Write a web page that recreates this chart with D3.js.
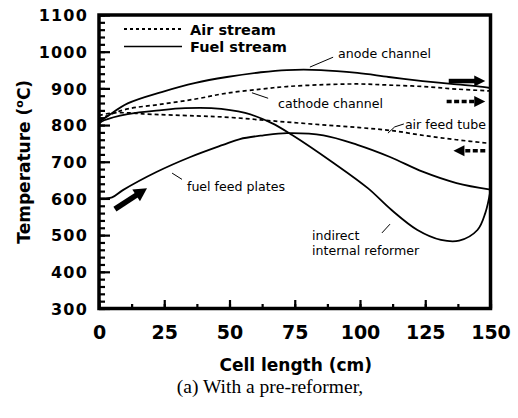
<!DOCTYPE html>
<html>
<head>
<meta charset="utf-8">
<script src="https://cdn.jsdelivr.net/npm/d3@7"></script>
<style>
  html, body { margin: 0; padding: 0; background: #fff; }
  svg { display: block; }
</style>
</head>
<body>
<svg id="chart" width="518" height="418"></svg>
<script>
// Axis ranges and tick labels
const lengthDomain = [0, 150];
const tempDomain = [300, 1100];
const lengthTicks = [0, 25, 50, 75, 100, 125, 150];
const tempTicks = [300, 400, 500, 600, 700, 800, 900, 1000, 1100];

// Fuel stream: anode channel
const anodeLen  = [0, 3, 11, 24, 37, 49, 62, 72, 85, 99, 111, 124, 135, 147, 150];
const anodeTemp = [809, 823, 859, 890, 915, 931, 944, 950, 950, 942, 931, 920, 912, 904, 901];

// Air stream: cathode channel
const cathodeLen  = [0, 4, 11, 24, 37, 49, 62, 72, 86, 99, 111, 124, 137, 150];
const cathodeTemp = [815, 828, 844, 857, 871, 887, 898, 905, 910, 912, 909, 905, 898, 893];

// Air stream: air feed tube
const airFeedLen  = [0, 5, 12, 18, 37, 50, 62, 74, 87, 100, 112, 125, 137, 150];
const airFeedTemp = [826, 833, 833, 830, 825, 821, 814, 807, 800, 793, 785, 771, 760, 750];

// Fuel stream: indirect internal reformer
const reformerLen  = [0, 2, 11, 24, 33, 43, 56, 66, 74, 90, 103, 112, 122, 131, 138, 145, 148, 150];
const reformerTemp = [804, 813, 830, 841, 846, 846, 833, 806, 773, 696, 628, 569, 514, 487, 485, 514, 560, 622];

// Fuel stream: fuel feed plates
const feedLen  = [0, 5, 9, 22, 35, 47.5, 54, 63, 72, 86, 99, 111.5, 124, 137, 150];
const feedTemp = [600, 603, 622, 672, 713, 746, 762, 772, 778, 772, 746, 713, 673, 642, 624];

// Flow-direction arrows (cell length, temperature)
const arrowFrom = [[134, 920], [133.2, 864], [148, 730], [6.1, 571]];
const arrowTo   = [[148, 920], [148, 864], [135.8, 730], [18.4, 628]];
const arrowStream = ["fuel", "air", "air", "fuel"];

const series = [
  { stream: "fuel", len: anodeLen, temp: anodeTemp },
  { stream: "air",  len: cathodeLen, temp: cathodeTemp },
  { stream: "air",  len: airFeedLen, temp: airFeedTemp },
  { stream: "fuel", len: reformerLen, temp: reformerTemp },
  { stream: "fuel", len: feedLen, temp: feedTemp }
];

const svg = d3.select("#chart");
const plotL = 99, plotR = 490.5, plotT = 15, plotB = 308.5;

const x = d3.scaleLinear().domain(lengthDomain).range([plotL, plotR]);
const y = d3.scaleLinear().domain(tempDomain).range([plotB, plotT]);

const boldFont = "'DejaVu Sans', sans-serif";

// ---- Minor and major ticks (pointing inward) ----
const yMinor = d3.axisLeft(y).tickValues(d3.range(300, 1101, 20)).tickSizeInner(-6).tickSizeOuter(0).tickFormat("");
const yMajor = d3.axisLeft(y).tickValues(tempTicks).tickSizeInner(-11).tickSizeOuter(0).tickPadding(11).tickFormat(d3.format("d"));
const xMinor = d3.axisBottom(x).tickValues(d3.range(0, 151, 12.5)).tickSizeInner(-4.5).tickSizeOuter(0).tickFormat("");
const xMajor = d3.axisBottom(x).tickValues(lengthTicks).tickSizeInner(-8.5).tickSizeOuter(0).tickPadding(17).tickFormat(d3.format("d"));

function styleAxis(g) {
  g.select(".domain").remove();
  g.selectAll(".tick line").attr("stroke", "#000").attr("stroke-width", 2.2);
}

svg.append("g").attr("transform", `translate(${plotL},0)`).call(yMinor).call(styleAxis);
const gy = svg.append("g").attr("transform", `translate(${plotL},0)`).call(yMajor).call(styleAxis);
gy.selectAll(".tick text")
  .attr("font-family", boldFont).attr("font-weight", "bold").attr("font-size", 16)
  .attr("fill", "#000").attr("letter-spacing", 1.2).attr("dy", "0.36em");

svg.append("g").attr("transform", `translate(0,${plotB})`).call(xMinor).call(styleAxis);
const gx = svg.append("g").attr("transform", `translate(0,${plotB})`).call(xMajor).call(styleAxis);
gx.selectAll(".tick text")
  .attr("font-family", boldFont).attr("font-weight", "bold").attr("font-size", 19)
  .attr("fill", "#000").attr("dy", "0.71em");

// ---- Curves ----
const line = d3.line()
  .x(d => x(d[0]))
  .y(d => y(d[1]))
  .curve(d3.curveCatmullRom.alpha(0.5));

series.forEach(s => {
  const pts = s.len.map((v, i) => [v, s.temp[i]]);
  svg.append("path")
    .attr("d", line(pts))
    .attr("fill", "none")
    .attr("stroke", "#000")
    .attr("stroke-width", s.stream === "fuel" ? 1.8 : 1.7)
    .attr("stroke-dasharray", s.stream === "air" ? "4,3" : null);
});

// ---- Flow arrows ----
function arrow(from, to, stream, big) {
  const x1 = x(from[0]), y1 = y(from[1]), x2 = x(to[0]), y2 = y(to[1]);
  const dx = x2 - x1, dy = y2 - y1, L = Math.hypot(dx, dy);
  const ux = dx / L, uy = dy / L;
  const hl = big ? 13 : 11, hw = big ? 7 : 5.5;
  const bx = x2 - ux * hl, by = y2 - uy * hl;
  svg.append("line")
    .attr("x1", x1).attr("y1", y1)
    .attr("x2", bx + ux * 1.5).attr("y2", by + uy * 1.5)
    .attr("stroke", "#000")
    .attr("stroke-width", big ? 5.5 : (stream === "air" ? 3.5 : 4.5))
    .attr("stroke-dasharray", stream === "air" ? "5,2.5" : null);
  svg.append("path")
    .attr("d", `M${x2},${y2}L${bx - uy * hw},${by + ux * hw}L${bx + uy * hw},${by - ux * hw}Z`)
    .attr("fill", "#000");
}
arrowFrom.forEach((f, i) => arrow(f, arrowTo[i], arrowStream[i], i === 3));

// ---- Curve labels and leader lines ----
const labelFont = "'DejaVu Sans', sans-serif";
function label(lines, at, lead) {
  const t = svg.append("text")
    .attr("font-family", labelFont).attr("font-size", 12.6).attr("fill", "#000");
  lines.forEach((s, i) => {
    t.append("tspan").attr("x", x(at[0])).attr("y", y(at[1]) + i * 15).text(s);
  });
  svg.append("path")
    .attr("d", d3.line().x(d => x(d[0])).y(d => y(d[1]))(lead))
    .attr("fill", "none").attr("stroke", "#000").attr("stroke-width", 1);
}
label(["anode channel"], [91.6, 983], [[80.8, 958], [89.7, 985]]);
label(["cathode channel"], [68.6, 846], [[58.6, 888], [64.8, 873]]);
label(["air feed tube"], [117.2, 788], [[110.7, 778], [113.3, 795], [116.8, 803]]);
label(["fuel feed plates"], [33.7, 620], [[28, 669], [31.8, 652]]);
label(["indirect", "internal reformer"], [81.6, 487], [[108.4, 506], [111.5, 530]]);

// ---- Plot frame ----
svg.append("rect")
  .attr("x", plotL).attr("y", plotT)
  .attr("width", plotR - plotL).attr("height", plotB - plotT)
  .attr("fill", "none").attr("stroke", "#000").attr("stroke-width", 3.5);

// ---- Legend ----
const legend = svg.append("g");
legend.append("line").attr("x1", 124).attr("x2", 182).attr("y1", 29).attr("y2", 29)
  .attr("stroke", "#000").attr("stroke-width", 2).attr("stroke-dasharray", "3,3");
legend.append("line").attr("x1", 124).attr("x2", 182).attr("y1", 46.5).attr("y2", 46.5)
  .attr("stroke", "#000").attr("stroke-width", 1.6);
legend.append("text").attr("x", 190).attr("y", 34.5)
  .attr("font-family", boldFont).attr("font-weight", "bold").attr("font-size", 14.5)
  .text("Air stream");
legend.append("text").attr("x", 190).attr("y", 52)
  .attr("font-family", boldFont).attr("font-weight", "bold").attr("font-size", 14.5)
  .text("Fuel stream");

// ---- Axis titles and caption ----
svg.append("text")
  .attr("x", (plotL + plotR) / 2 + 1).attr("y", 370.5)
  .attr("text-anchor", "middle")
  .attr("font-family", boldFont).attr("font-weight", "bold").attr("font-size", 17)
  .text("Cell length (cm)");

const yTitle = svg.append("text")
  .attr("transform", `translate(30,${(plotT + plotB) / 2}) rotate(-90)`)
  .attr("text-anchor", "middle")
  .attr("font-family", boldFont).attr("font-weight", "bold").attr("font-size", 17);
yTitle.append("tspan").text("Temperature (");
yTitle.append("tspan").attr("font-size", 11).attr("dy", -7).text("o");
yTitle.append("tspan").attr("dy", 7).text("C)");

svg.append("text")
  .attr("x", 270).attr("y", 393)
  .attr("text-anchor", "middle")
  .attr("font-family", "'Liberation Serif', 'Times New Roman', serif").attr("font-size", 19.5)
  .text("(a) With a pre-reformer,");
</script>
</body>
</html>
